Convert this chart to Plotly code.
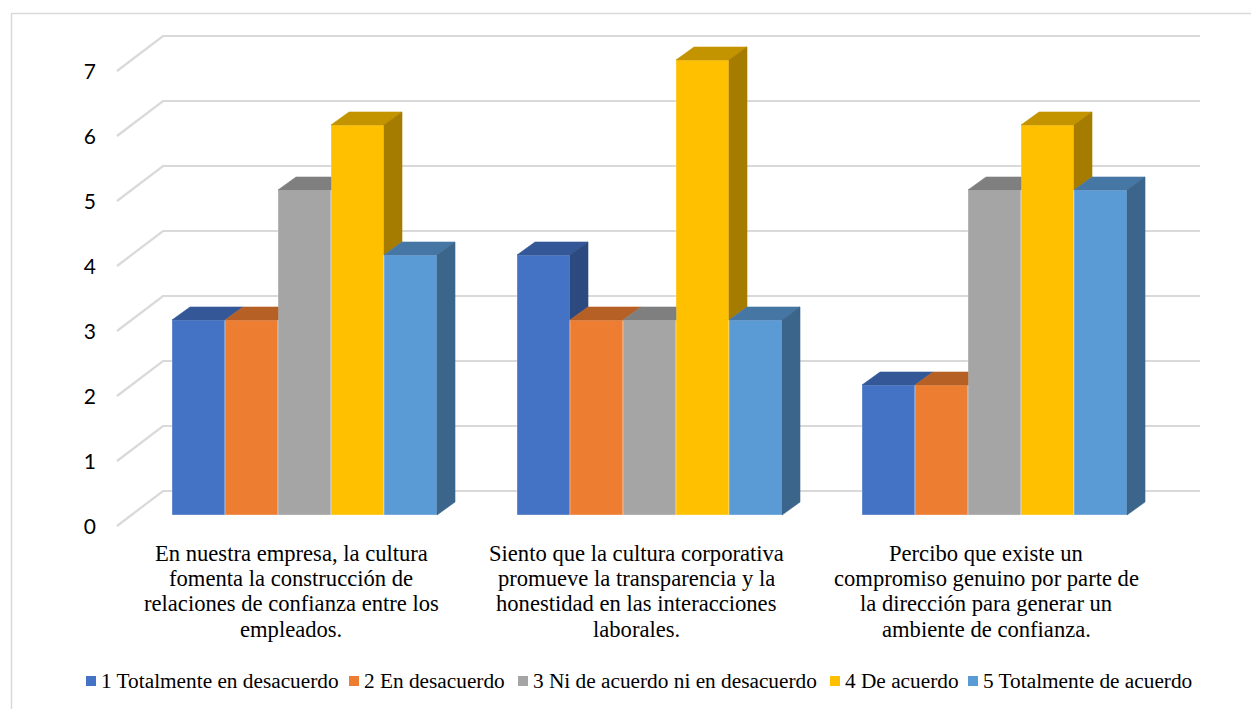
import plotly.graph_objects as go

# ---------------- data ----------------
category_lines = [
    ["En nuestra empresa, la cultura", "fomenta la construcción de",
     "relaciones de confianza entre los", "empleados."],
    ["Siento que la cultura corporativa", "promueve la transparencia y la",
     "honestidad en las interacciones", "laborales."],
    ["Percibo que existe un", "compromiso genuino por parte de",
     "la dirección para generar un", "ambiente de confianza."],
]
series_names = [
    "1 Totalmente en desacuerdo",
    "2 En desacuerdo",
    "3 Ni de acuerdo ni en desacuerdo",
    "4 De acuerdo",
    "5 Totalmente de acuerdo",
]
s1_values = [3, 4, 2]
s2_values = [3, 3, 2]
s3_values = [5, 3, 5]
s4_values = [6, 7, 6]
s5_values = [4, 3, 5]
values = [s1_values, s2_values, s3_values, s4_values, s5_values]
y_ticks = [0, 1, 2, 3, 4, 5, 6, 7]

front_colors = ["#4472C4", "#ED7D31", "#A5A5A5", "#FFC000", "#5B9BD5"]
top_colors = ["#345897", "#B66026", "#7F7F7F", "#C49400", "#4677A4"]
side_colors = ["#2C4A7F", "#9A5120", "#6B6B6B", "#A67C00", "#3B658A"]

# ---------------- geometry (pixels) ----------------
W, H = 1251, 709
L, R, T, B = 115, 32, 21, 175
PW, PH = W - L - R, H - T - B
X0PX, XU = 304.5, 345.0   # pixel of category 0, pixels per category
Y0PX, YU = 515.0, 65.0    # pixel of value 0 (front), pixels per unit


def dx_(px):
    return (px - X0PX) / XU


def dy_(py):
    return (Y0PX - py) / YU


def paper_x(px):
    return (px - L) / PW


def paper_y(py):
    return (T + PH - py) / PH


GROUP = 265.0 / XU
BW = GROUP / 5
DEP_X = 18.0 / XU
DEP_Y = 13.0 / YU

fig = go.Figure()

# front faces
for s in range(5):
    fig.add_trace(go.Bar(
        x=[0, 1, 2], y=values[s], width=BW, offset=-GROUP / 2 + s * BW,
        name=series_names[s], marker_color=front_colors[s],
        marker_line=dict(width=1, color="rgba(255,255,255,0.35)"),
        showlegend=False, hoverinfo="skip"))

# top and side faces (pseudo 3D)
for s in range(5):
    tx, ty, sx, sy = [], [], [], []
    for g in range(3):
        v = values[s][g]
        vn = values[s + 1][g] if s < 4 else 0
        l = g - GROUP / 2 + s * BW
        r = l + BW
        if vn > v:
            pts = [(l, v), (r, v), (r, v + DEP_Y), (l + DEP_X, v + DEP_Y)]
        else:
            pts = [(l, v), (r, v), (r + DEP_X, v + DEP_Y), (l + DEP_X, v + DEP_Y)]
        for p in pts + [pts[0]]:
            tx.append(p[0]); ty.append(p[1])
        tx.append(None); ty.append(None)
        if v > vn:
            pts = [(r, vn), (r + DEP_X, vn + DEP_Y), (r + DEP_X, v + DEP_Y), (r, v)]
            for p in pts + [pts[0]]:
                sx.append(p[0]); sy.append(p[1])
            sx.append(None); sy.append(None)
    fig.add_trace(go.Scatter(x=tx, y=ty, mode="lines", fill="toself",
                             fillcolor=top_colors[s],
                             line=dict(width=0.6, color=top_colors[s]),
                             showlegend=False, hoverinfo="skip"))
    if sx:
        fig.add_trace(go.Scatter(x=sx, y=sy, mode="lines", fill="toself",
                                 fillcolor=side_colors[s],
                                 line=dict(width=0.6, color=side_colors[s]),
                                 showlegend=False, hoverinfo="skip"))

shapes = []
# back-wall gridlines with side diagonals
for v in y_ticks:
    path = "M {:.5f},{:.5f} L {:.5f},{:.5f} L {:.5f},{:.5f}".format(
        dx_(117), v + dy_(526), dx_(163), v + dy_(491), dx_(1200), v + dy_(491))
    shapes.append(dict(type="path", path=path, xref="x", yref="y", layer="below",
                       line=dict(color="#D9D9D9", width=2.2)))

# outer border
shapes.append(dict(type="rect", xref="paper", yref="paper",
                   x0=paper_x(11.5), y0=paper_y(740), x1=paper_x(1290), y1=paper_y(13.5),
                   line=dict(color="#D9D9D9", width=1.5), layer="below"))

annotations = []
# category labels
label_centers = [291, 636, 986]
line_ys = [553, 578.5, 604, 629.5]
for g, lines in enumerate(category_lines):
    for i, txt in enumerate(lines):
        annotations.append(dict(
            text=txt, x=paper_x(label_centers[g]), y=paper_y(line_ys[i]),
            xref="paper", yref="paper", xanchor="center", yanchor="middle",
            showarrow=False,
            font=dict(family="Liberation Serif", size=22.6, color="#000000")))

# legend
marker_left = [86, 349, 518, 830, 968]
text_left = [99, 362, 531, 843, 981]
LEG_Y = 681
for s in range(5):
    shapes.append(dict(type="rect", xref="paper", yref="paper",
                       x0=paper_x(marker_left[s]), x1=paper_x(marker_left[s] + 10),
                       y0=paper_y(LEG_Y + 5), y1=paper_y(LEG_Y - 5),
                       fillcolor=front_colors[s], line=dict(width=0)))
    annotations.append(dict(
        text=series_names[s], x=paper_x(text_left[s]), y=paper_y(LEG_Y),
        xref="paper", yref="paper", xanchor="left", yanchor="middle",
        showarrow=False,
        font=dict(family="Liberation Serif", size=21.3, color="#000000")))

fig.update_layout(
    width=W, height=H,
    margin=dict(l=L, r=R, t=T, b=B, pad=0),
    paper_bgcolor="white", plot_bgcolor="white",
    barmode="overlay",
    shapes=shapes, annotations=annotations,
    showlegend=False,
    xaxis=dict(range=[dx_(L), dx_(W - R)], showticklabels=False, showgrid=False,
               zeroline=False, showline=False, fixedrange=True),
    yaxis=dict(range=[dy_(T + PH), dy_(T)],
               tickvals=[v + dy_(527) for v in y_ticks],
               ticktext=[str(v) for v in y_ticks],
               showgrid=False, zeroline=False, showline=False, ticks="",
               ticklabelstandoff=18,
               tickfont=dict(family="Lato", size=21, color="#000000"),
               fixedrange=True),
)

fig.write_html("out.html")
